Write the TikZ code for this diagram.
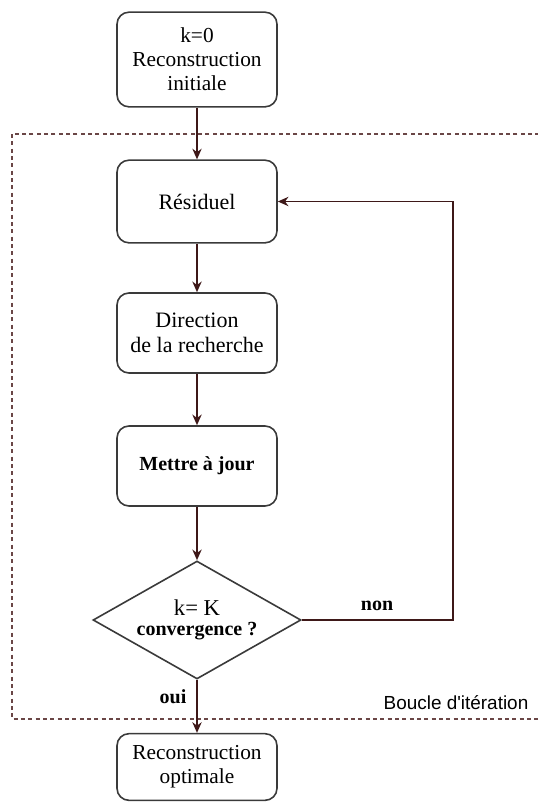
\documentclass[tikz,border=0pt]{standalone}
\usepackage{fontspec}
\setmainfont{Liberation Serif}
\newfontfamily\boucfont{Liberation Sans}
\usepackage{xcolor}
\usetikzlibrary{shapes.geometric,arrows.meta}

\definecolor{boxgray}{HTML}{3A3A3A}
\definecolor{flowbrown}{HTML}{3E1818}
\definecolor{dashbrown}{HTML}{6A4646}

\tikzset{
  flowbox/.style={draw=boxgray, line width=1.2pt, rounded corners=9pt, minimum width=120pt, align=center, inner sep=2pt},
  testbox/.style={draw=boxgray, line width=1.2pt, diamond, aspect=1.76, minimum width=156pt, minimum height=88.5pt, inner sep=0pt, align=center},
  flow/.style={draw=flowbrown, line width=1.1pt, -{Stealth[length=8pt,width=7pt]}},
}

\begin{document}
\begin{tikzpicture}[x=0.75pt,y=-0.75pt]
\useasboundingbox (0,0) rectangle (538,807);
% iteration frame
\draw[dashbrown, line width=1pt, dash pattern=on 3pt off 2.5pt] (12,134) rectangle (545,719);
\node[font=\boucfont\fontsize{14.2}{17}\selectfont] (boucle) at (456,703) {Boucle d'itération};

\node[flowbox, minimum height=71pt, font=\fontsize{16}{18}\selectfont] (init) at (197,59.5) {k=0\\Reconstruction\\initiale};
\node[flowbox, minimum height=62pt, font=\fontsize{16.5}{19}\selectfont] (res) at (197,201.5) {Résiduel};
\node[flowbox, minimum height=60pt, font=\fontsize{16.5}{19}\selectfont] (dir) at (197,333) {Direction\\de la recherche};
\node[flowbox, minimum height=60pt, font=\bfseries\fontsize{15}{18}\selectfont] (maj) at (197,466) {Mettre à jour};
\node[testbox] (conv) at (197,620) {{\fontsize{17}{19}\selectfont k= K}\\[3pt]{\bfseries\fontsize{15}{18}\selectfont convergence ?}};
\node[flowbox, minimum height=50pt, font=\fontsize{16}{18}\selectfont] (opt) at (197,767) {Reconstruction\\optimale};

\coordinate (loopc) at (453,620);

\draw[flow] (init) -- (res);
\draw[flow] (res) -- (dir);
\draw[flow] (dir) -- (maj);
\draw[flow] (maj) -- (conv);
\draw[flow] (conv.east) -- (loopc) |- (res.east);
\draw[flow] (conv) -- (opt);

\node[font=\bfseries\fontsize{15}{18}\selectfont] (non) at (377,606) {non};
\node[font=\bfseries\fontsize{15}{18}\selectfont] (oui) at (173,697) {oui};
\end{tikzpicture}
\end{document}
